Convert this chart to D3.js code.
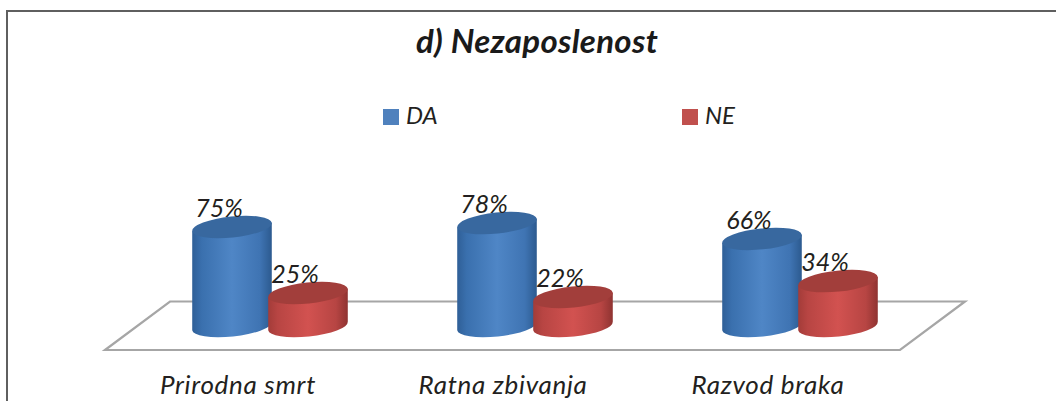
<!DOCTYPE html>
<html><head><meta charset="utf-8">
<script src="https://cdn.jsdelivr.net/npm/d3@7/dist/d3.min.js"></script>
<style>html,body{margin:0;padding:0;background:#fff}svg{display:block}text{font-family:"Lato",sans-serif;font-style:italic;fill:#231f20}</style>
</head><body><div id="c"></div>
<script>
const title = "d) Nezaposlenost";
const categories = ["Prirodna smrt","Ratna zbivanja","Razvod braka"];
const seriesNames = ["DA","NE"];
const da = [75,78,66];
const ne = [25,22,34];
const colors = {DA:"#4f81bd",NE:"#c0504d"};
const W=1056,H=401;
const svg=d3.select("#c").append("svg").attr("width",W).attr("height",H);
const defs=svg.append("defs");
function grad(id,stops){const g=defs.append("linearGradient").attr("id",id);
  stops.forEach(s=>g.append("stop").attr("offset",s[0]).attr("stop-color",s[1]));}
grad("bodyDA",[[0,"#2f5f97"],[.12,"#3a70ae"],[.5,"#4f86c6"],[.85,"#3f74b3"],[1,"#2c5a8f"]]);
grad("bodyNE",[[0,"#a33c39"],[.12,"#b84543"],[.5,"#d25250"],[.85,"#b74543"],[1,"#8f3331"]]);
const topFill={DA:"#38689f",NE:"#a23e3b"};

// frame: left and top edges only, running off the page
svg.append("path").attr("d",`M7 ${H} V11 H${W}`).attr("fill","none").attr("stroke","#5f5f5f").attr("stroke-width",2);
svg.append("text").attr("x",537).attr("y",53).attr("text-anchor","middle").style("font-size","33px").style("letter-spacing","0.3px").style("font-weight",700).style("fill","#1a1a1a").text(title);

// legend
const lx=d3.scalePoint().domain(seriesNames).range([383,682]);
seriesNames.forEach(n=>{
  svg.append("rect").attr("x",lx(n)).attr("y",109).attr("width",16).attr("height",16).attr("fill",colors[n]);
  svg.append("text").attr("x",lx(n)+23).attr("y",124).style("font-size","24px").text(n);
});

// floor
svg.append("path").attr("d","M105 350 L170 301.5 H965 L900 350 Z").attr("fill","#fff").attr("stroke","#a6a6a6").attr("stroke-width",2.2);

const xc=d3.scalePoint().domain(categories).range([232,762]);
const y=d3.scaleLinear().domain([0,100]).range([326,194]);
const rx=40,ry=10.5,tilt=-6,off=76;
const ca=Math.cos(tilt*Math.PI/180),sa=Math.sin(-tilt*Math.PI/180);
function cyl(cx,v,name){
  const t=y(v),b=y(0),dx=rx*ca,dy=rx*sa;
  const g=svg.append("g");
  g.append("path").attr("d",`M${cx-dx} ${t+dy} L${cx-dx} ${b+dy} A${rx} ${ry} ${tilt} 0 0 ${cx+dx} ${b-dy} L${cx+dx} ${t-dy} Z`)
    .attr("fill",`url(#body${name})`);
  g.append("ellipse").attr("cx",cx).attr("cy",t).attr("rx",rx).attr("ry",ry)
    .attr("transform",`rotate(${tilt} ${cx} ${t})`).attr("fill",topFill[name]);
  return t;
}
const labels=[];
categories.forEach((c,i)=>{
  const cx=xc(c);
  const t1=cyl(cx,da[i],"DA");
  labels.push([cx-13,t1-10,da[i]]);
  const t2=cyl(cx+off,ne[i],"NE");
  labels.push([cx+off-13,t2-10,ne[i]]);
  svg.append("text").attr("x",cx+6).attr("y",394).attr("text-anchor","middle").style("font-size","26px").style("letter-spacing","0.7px").text(c);
});
labels.forEach(l=>svg.append("text").attr("x",l[0]).attr("y",l[1]).attr("text-anchor","middle").style("font-size","25px").text(l[2]+"%"));
</script></body></html>
